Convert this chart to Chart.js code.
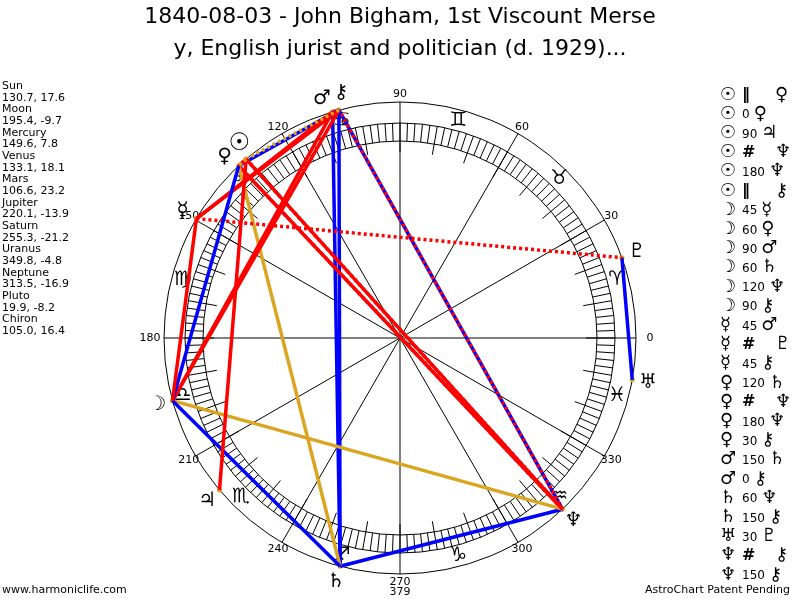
<!DOCTYPE html>
<html>
<head>
<meta charset="utf-8">
<script src="https://cdn.jsdelivr.net/npm/chart.js@4.4.1/dist/chart.umd.min.js"></script>
<style>
  html, body { margin: 0; padding: 0; background: #fff; }
  #wrap { width: 800px; height: 600px; }
</style>
</head>
<body>
<div id="wrap"><canvas id="chart" width="800" height="600"></canvas></div>
<script>
// chart data
const titleLines = ['1840-08-03 - John Bigham, 1st Viscount Merse', 'y, English jurist and politician (d. 1929)...'];
const planetNames = ['Sun', 'Moon', 'Mercury', 'Venus', 'Mars', 'Jupiter', 'Saturn', 'Uranus', 'Neptune', 'Pluto', 'Chiron'];
const planetGlyphs = ['☉', '☽', '☿', '♀', '♂', '♃', '♄', '♅', '♆', '♇', '⚷'];
const longitudes = [130.7, 195.4, 149.6, 133.1, 106.6, 220.1, 255.3, 349.8, 313.5, 19.9, 105.0];
const declinations = [17.6, -9.7, 7.8, 18.1, 23.2, -13.9, -21.2, -4.8, -16.9, -8.2, 16.4];
const signGlyphs = ['♈', '♉', '♊', '♋', '♌', '♍', '♎', '♏', '♐', '♑', '♒', '♓'];
const degreeLabels = [0, 30, 60, 90, 120, 150, 180, 210, 240, 270, 300, 330];
const bottomNote = '379';

// aspects: from / kind / to
const aspectFrom = ['Sun', 'Sun', 'Sun', 'Sun', 'Sun', 'Sun', 'Moon', 'Moon', 'Moon', 'Moon', 'Moon', 'Moon', 'Mercury',
  'Mercury', 'Mercury', 'Venus', 'Venus', 'Venus', 'Venus', 'Mars', 'Mars', 'Saturn', 'Saturn', 'Uranus', 'Neptune', 'Neptune'];
const aspectKind = ['par', '0', '90', 'cpar', '180', 'par', '45', '60', '90', '60', '120', '90', '45',
  'cpar', '45', '120', 'cpar', '180', '30', '150', '0', '60', '150', '30', 'cpar', '150'];
const aspectTo = ['Venus', 'Venus', 'Jupiter', 'Neptune', 'Neptune', 'Chiron', 'Mercury', 'Venus', 'Mars', 'Saturn', 'Neptune', 'Chiron', 'Mars',
  'Pluto', 'Chiron', 'Saturn', 'Neptune', 'Neptune', 'Chiron', 'Saturn', 'Chiron', 'Neptune', 'Chiron', 'Pluto', 'Chiron', 'Chiron'];

// radii of the wheel (in chart units = px)
const R_OUT = 236, R_RING_OUT = 215, R_RING_IN = 197, R_TICK = 186, R_SIGN = 225, R_DEG = 244, R_GLYPH = 252;
const FONT = '"DejaVu Sans", Verdana, sans-serif';

function polar(lon, r) {
  const a = lon * Math.PI / 180;
  return { x: r * Math.cos(a), y: r * Math.sin(a) };
}

function aspectStyle(kind) {
  if (kind === 'par') return { color: '#daa520', dash: [3, 3] };
  if (kind === 'cpar') return { color: '#ff0000', dash: [3, 3] };
  if (kind === '120') return { color: '#daa520', dash: [] };
  if (kind === '30' || kind === '60' || kind === '150') return { color: '#0000ff', dash: [] };
  return { color: '#ff0000', dash: [] };
}

const datasets = aspectFrom.map((from, i) => {
  const a = longitudes[planetNames.indexOf(from)];
  const b = longitudes[planetNames.indexOf(aspectTo[i])];
  const st = aspectStyle(aspectKind[i]);
  return {
    data: [polar(a, R_OUT), polar(b, R_OUT)],
    showLine: true,
    borderColor: st.color,
    borderDash: st.dash,
    borderWidth: 3.5,
    pointRadius: 0,
    borderCapStyle: 'butt'
  };
});
datasets.push({
  data: longitudes.map(l => polar(l, R_OUT)),
  showLine: false,
  pointRadius: 2.5,
  pointBackgroundColor: '#daa520',
  pointBorderWidth: 0
});

// spread planet glyphs that sit too close together
const glyphAngle = longitudes.slice();
const order = longitudes.map((l, i) => i).sort((a, b) => longitudes[a] - longitudes[b]);
for (let pass = 0; pass < 6; pass++) {
  for (let k = 1; k < order.length; k++) {
    const p = order[k - 1], q = order[k];
    const gap = glyphAngle[q] - glyphAngle[p];
    if (gap < 4.5) {
      const d = (4.5 - gap) / 2;
      glyphAngle[p] -= d;
      glyphAngle[q] += d;
    }
  }
}

const wheel = {
  id: 'wheel',
  beforeDatasetsDraw(chart) {
    const ctx = chart.ctx;
    const xs = chart.scales.x, ys = chart.scales.y;
    const cx = xs.getPixelForValue(0), cy = ys.getPixelForValue(0);
    const k = xs.getPixelForValue(1) - cx;
    const P = (lon, r) => { const p = polar(lon, r); return [xs.getPixelForValue(p.x), ys.getPixelForValue(p.y)]; };
    ctx.save();
    ctx.strokeStyle = '#000';
    ctx.lineWidth = 1;
    [R_OUT, R_RING_OUT, R_RING_IN].forEach(r => {
      ctx.beginPath();
      ctx.arc(cx, cy, r * k, 0, Math.PI * 2);
      ctx.stroke();
    });
    ctx.beginPath();
    for (let d = 0; d < 360; d += 2) {
      const r0 = d % 10 === 0 ? R_TICK : R_RING_IN;
      const a = P(d, r0), b = P(d, R_RING_OUT);
      ctx.moveTo(a[0], a[1]);
      ctx.lineTo(b[0], b[1]);
    }
    degreeLabels.forEach(d => {
      const b = P(d, R_OUT);
      ctx.moveTo(cx, cy);
      ctx.lineTo(b[0], b[1]);
    });
    ctx.stroke();

    ctx.fillStyle = '#000';
    ctx.textAlign = 'center';
    ctx.textBaseline = 'middle';
    ctx.font = '11px ' + FONT;
    degreeLabels.forEach(d => {
      const p = P(d, R_DEG + (d % 180 === 0 ? 6 : 0));
      ctx.fillText(String(d), p[0], p[1]);
    });
    const p270 = P(270, R_DEG);
    ctx.fillText(bottomNote, p270[0], p270[1] + 10);

    ctx.font = '20px ' + FONT;
    signGlyphs.forEach((g, i) => {
      const p = P(15 + 30 * i, R_SIGN);
      ctx.fillText(g, p[0], p[1]);
    });
    planetGlyphs.forEach((g, i) => {
      ctx.font = (i === 0 ? 'bold 24px ' : '20px ') + FONT;
      const p = P(glyphAngle[i], R_GLYPH);
      ctx.fillText(g, p[0], p[1]);
    });
    ctx.restore();
  },
  afterDraw(chart) {
    const ctx = chart.ctx;
    ctx.save();
    ctx.fillStyle = '#000';
    ctx.textBaseline = 'middle';
    ctx.textAlign = 'center';
    ctx.font = '22px ' + FONT;
    ctx.fillText(titleLines[0], 400, 17);
    ctx.fillText(titleLines[1], 400, 49);

    ctx.textAlign = 'left';
    ctx.font = '11px ' + FONT;
    planetNames.forEach((n, i) => {
      const y = 86 + i * 2 * 11.67;
      ctx.fillText(n, 2, y);
      ctx.fillText(longitudes[i].toFixed(1) + ', ' + declinations[i].toFixed(1), 2, y + 11.67);
    });
    ctx.fillText('www.harmoniclife.com', 2, 590);
    ctx.textAlign = 'right';
    ctx.fillText('AstroChart Patent Pending', 790, 590);

    ctx.textAlign = 'left';
    aspectFrom.forEach((from, i) => {
      const y = 95 + i * 19.2;
      const kind = aspectKind[i];
      ctx.font = '18px ' + FONT;
      ctx.fillText(planetGlyphs[planetNames.indexOf(from)], 720, y);
      let x;
      if (kind === 'par' || kind === 'cpar') {
        ctx.font = 'bold 16px ' + FONT;
        ctx.fillText(kind === 'par' ? '‖' : '#', 742, y);
        x = 775;
      } else {
        ctx.font = '12px ' + FONT;
        ctx.fillText(kind, 742, y + 1);
        x = 742 + ctx.measureText(kind).width + 4;
      }
      ctx.font = '18px ' + FONT;
      ctx.fillText(planetGlyphs[planetNames.indexOf(aspectTo[i])], x, y);
    });
    ctx.restore();
  }
};

new Chart(document.getElementById('chart').getContext('2d'), {
  type: 'scatter',
  data: { datasets: datasets },
  options: {
    responsive: false,
    animation: false,
    layout: { padding: { left: 150, right: 150, top: 88, bottom: 12 } },
    scales: {
      x: { type: 'linear', min: -250, max: 250, display: false },
      y: { type: 'linear', min: -250, max: 250, display: false }
    },
    plugins: { legend: { display: false }, tooltip: { enabled: false } }
  },
  plugins: [wheel]
});
</script>
</body>
</html>
